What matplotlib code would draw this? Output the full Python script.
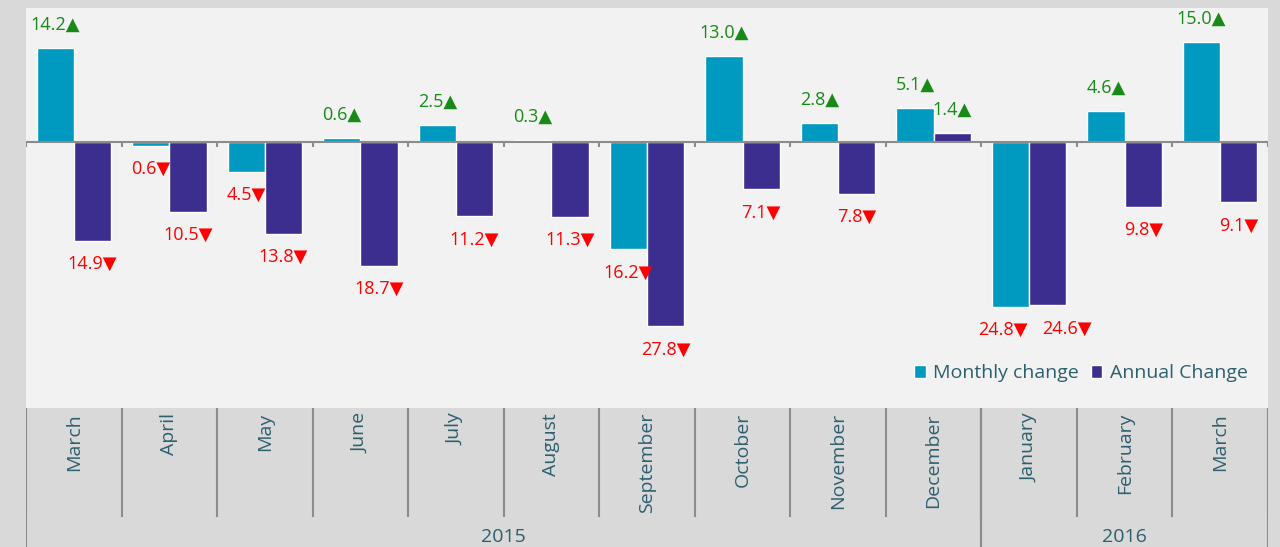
import matplotlib.pyplot as plt
import numpy as np

months = ['March', 'April', 'May', 'June', 'July', 'August', 'September',
          'October', 'November', 'December', 'January', 'February', 'March']
years = ['2015', '2016']
year_spans = [(0, 9), (10, 12)]
monthly = [14.2, -0.6, -4.5, 0.6, 2.5, 0.3, -16.2, 13.0, 2.8, 5.1, -24.8, 4.6, 15.0]
annual = [-14.9, -10.5, -13.8, -18.7, -11.2, -11.3, -27.8, -7.1, -7.8, 1.4, -24.6, -9.8, -9.1]

c_month = '#009ac0'
c_annual = '#3b2e8e'
c_up = '#178a17'
c_down = '#ff0000'
c_text = '#2c5f6e'
fam = ['Open Sans', 'DejaVu Sans']

fig = plt.figure(figsize=(12.8, 5.47), dpi=100, facecolor='#d9d9d9')
ax = fig.add_axes([26 / 1280, 139 / 547, 1242 / 1280, 400 / 547])
ax.set_facecolor('#f2f2f2')
x = np.arange(len(months))
w = 0.39

ax.bar(x - w / 2, monthly, w, color=c_month, edgecolor='white', linewidth=1, label='Monthly change', zorder=2)
ax.bar(x + w / 2, annual, w, color=c_annual, edgecolor='white', linewidth=1, label='Annual Change', zorder=2)

ax.set_xlim(-0.5, len(months) - 0.5)
ax.set_ylim(-40.1, 20.2)
for s in ax.spines.values():
    s.set_visible(False)
ax.set_xticks([])
ax.set_yticks([])

# zero axis with tick marks at category boundaries
ax.axhline(0, color='#8c8c8c', lw=1.5, zorder=3)
ax.vlines(np.arange(len(months) + 1) - 0.5, -0.7, 0, color='#8c8c8c', lw=1.5, zorder=3)

# data labels (January pair pushed apart so they don't collide)
nudge = {(0, 10): -0.08, (1, 10): 0.2}
off = 3.5
for k, (xs, vals) in enumerate(((x - w / 2, monthly), (x + w / 2, annual))):
    for i, (xi, v) in enumerate(zip(xs, vals)):
        xi = xi + nudge.get((k, i), 0)
        if v >= 0:
            ax.text(xi, v + off, f'{abs(v):.1f}\u25B2', ha='center', va='center',
                    color=c_up, fontsize=13, family=fam, zorder=4)
        else:
            ax.text(xi, v - off, f'{abs(v):.1f}\u25BC', ha='center', va='center',
                    color=c_down, fontsize=13, family=fam, zorder=4)

leg = ax.legend(loc='lower right', bbox_to_anchor=(0.998, 0.02), ncol=2, frameon=False,
                handlelength=0.6, handleheight=0.6, handletextpad=0.4, columnspacing=0.6,
                prop={'family': fam, 'size': 14})
for t in leg.get_texts():
    t.set_color(c_text)

# category axis area
ax2 = fig.add_axes([26 / 1280, 0, 1242 / 1280, 139 / 547])
ax2.set_xlim(-0.5, len(months) - 0.5)
ax2.set_ylim(0, 139)
ax2.axis('off')
ax2.vlines(np.arange(len(months) + 1) - 0.5, 30, 139, color='#8c8c8c', lw=1.5)
for (a, b), yr in zip(year_spans, years):
    ax2.vlines([a - 0.5, b + 0.5], 0, 139, color='#8c8c8c', lw=1.5)
    ax2.text((a + b) / 2, 10, yr, ha='center', va='center', color=c_text, fontsize=14, family=fam)
for xi, m in zip(x, months):
    ax2.text(xi, 134, m, rotation=90, ha='center', va='top', color=c_text, fontsize=14, family=fam)

fig.savefig('out.png', dpi=100, facecolor=fig.get_facecolor())
